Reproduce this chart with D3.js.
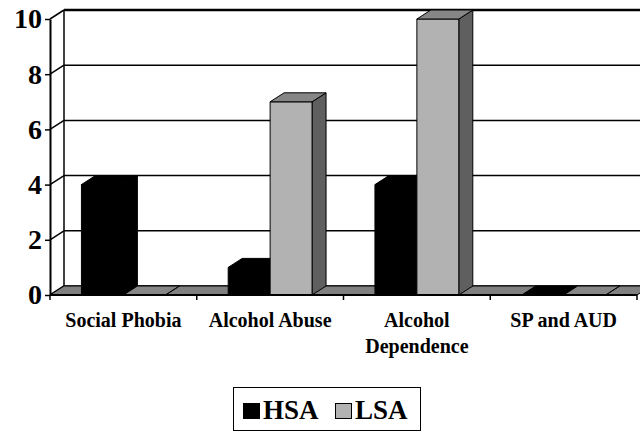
<!DOCTYPE html>
<html>
<head>
<meta charset="utf-8">
<script src="https://cdn.jsdelivr.net/npm/d3@7"></script>
<style>
  body { margin: 0; background: #fff; }
</style>
</head>
<body>
<div id="chart"></div>
<script>
// chart data
var categories = ['Social Phobia', 'Alcohol Abuse', 'Alcohol Dependence', 'SP and AUD'];
var categoryLines = [['Social Phobia'], ['Alcohol Abuse'], ['Alcohol', 'Dependence'], ['SP and AUD']];
var seriesNames = ['HSA', 'LSA'];
var hsaValues = [4, 1, 4, 0];
var lsaValues = [0, 7, 10, 0];
var yTicks = [0, 2, 4, 6, 8, 10];

var width = 640, height = 431;
var depth = {dx: 14, dy: -9};
var serif = 'Liberation Serif';

// colours for front / top / side of each series
var faceColors = {
    HSA: {front: '#000000', top: '#000000', side: '#000000'},
    LSA: {front: '#b2b2b2', top: '#868686', side: '#5f5f5f'}
};

var svg = d3.select('#chart').append('svg')
    .attr('width', width)
    .attr('height', height);

// scales
var x = d3.scaleBand().domain(categories).range([50, 637]).paddingInner(0).paddingOuter(0);
var xSub = d3.scaleBand().domain(seriesNames).range([0, x.bandwidth()]).paddingInner(0).paddingOuter(0.75);
var y = d3.scaleLinear().domain([0, 10]).range([295, 19]);

var x0 = x.range()[0], x1 = x.range()[1];

// back wall gridlines
svg.append('g').selectAll('line')
    .data(yTicks)
    .enter().append('line')
    .attr('x1', x0 + depth.dx)
    .attr('x2', width + 20)
    .attr('y1', function (d) { return y(d) + depth.dy; })
    .attr('y2', function (d) { return y(d) + depth.dy; })
    .attr('stroke', '#000')
    .attr('stroke-width', function (d) { return d === 10 ? 2.5 : 1.5; });

// side wall: diagonal lines from front axis to back wall
svg.append('g').selectAll('line')
    .data(yTicks)
    .enter().append('line')
    .attr('x1', x0)
    .attr('y1', function (d) { return y(d); })
    .attr('x2', x0 + depth.dx)
    .attr('y2', function (d) { return y(d) + depth.dy; })
    .attr('stroke', '#000')
    .attr('stroke-width', 1.5);

// back wall left edge
svg.append('line')
    .attr('x1', x0 + depth.dx).attr('x2', x0 + depth.dx)
    .attr('y1', y(10) + depth.dy).attr('y2', y(0) + depth.dy)
    .attr('stroke', '#000').attr('stroke-width', 1.5);

// floor
function quad(pts) {
    return 'M' + pts.map(function (p) { return p[0] + ',' + p[1]; }).join('L') + 'Z';
}
svg.append('path')
    .attr('d', quad([[x0, y(0)], [x1, y(0)], [x1 + depth.dx, y(0) + depth.dy], [x0 + depth.dx, y(0) + depth.dy]]))
    .attr('fill', '#808080')
    .attr('stroke', '#000')
    .attr('stroke-width', 1);

// bars
var bars = [];
categories.forEach(function (c, i) {
    bars.push({cat: c, series: 'HSA', value: hsaValues[i]});
    bars.push({cat: c, series: 'LSA', value: lsaValues[i]});
});

var barG = svg.append('g');
bars.forEach(function (b) {
    var left = x(b.cat) + xSub(b.series);
    var right = left + xSub.bandwidth();
    var top = y(b.value), base = y(0);
    var col = faceColors[b.series];
    var g = barG.append('g');
    // side face
    g.append('path')
        .attr('d', quad([[right, base], [right + depth.dx, base + depth.dy], [right + depth.dx, top + depth.dy], [right, top]]))
        .attr('fill', col.side).attr('stroke', '#000').attr('stroke-width', 1);
    // front face
    g.append('path')
        .attr('d', quad([[left, base], [right, base], [right, top], [left, top]]))
        .attr('fill', col.front).attr('stroke', '#000').attr('stroke-width', 1);
    // top face
    g.append('path')
        .attr('d', quad([[left, top], [right, top], [right + depth.dx, top + depth.dy], [left + depth.dx, top + depth.dy]]))
        .attr('fill', col.top).attr('stroke', '#000').attr('stroke-width', 1);
});

// y axis
var yAxis = svg.append('g')
    .attr('transform', 'translate(' + x0 + ',0)')
    .call(d3.axisLeft(y).tickValues(yTicks).tickSize(5).tickSizeOuter(0).tickPadding(3));
yAxis.select('.domain').attr('stroke', '#000').attr('stroke-width', 2);
yAxis.selectAll('.tick line').attr('stroke', '#000').attr('stroke-width', 1.5);
yAxis.selectAll('.tick text')
    .attr('fill', '#000')
    .attr('font-family', serif)
    .attr('font-weight', 'bold')
    .attr('font-size', 28);

// x axis
svg.append('line')
    .attr('x1', x0).attr('x2', x1)
    .attr('y1', y(0)).attr('y2', y(0))
    .attr('stroke', '#000').attr('stroke-width', 2);

var boundaries = categories.map(function (c) { return x(c); }).concat([x1]);
svg.append('g').selectAll('line')
    .data(boundaries)
    .enter().append('line')
    .attr('x1', function (d) { return d; })
    .attr('x2', function (d) { return d; })
    .attr('y1', y(0))
    .attr('y2', y(0) + 5)
    .attr('stroke', '#000')
    .attr('stroke-width', 1.5);

// category labels
var labels = svg.append('g').selectAll('text')
    .data(categories)
    .enter().append('text')
    .attr('text-anchor', 'middle')
    .attr('font-family', serif)
    .attr('font-weight', 'bold')
    .attr('font-size', 20)
    .attr('transform', function (d) { return 'translate(' + (x(d) + x.bandwidth() / 2) + ',327)'; });
labels.each(function (d, i) {
    var t = d3.select(this);
    categoryLines[i].forEach(function (line, j) {
        t.append('tspan').attr('x', 0).attr('y', j * 26).text(line);
    });
});

// legend
var legend = svg.append('g');
legend.append('rect')
    .attr('x', 233.5).attr('y', 387.5)
    .attr('width', 187).attr('height', 43)
    .attr('fill', '#fff').attr('stroke', '#000').attr('stroke-width', 1);

var legendX = [243, 335];
seriesNames.forEach(function (s, i) {
    legend.append('rect')
        .attr('x', legendX[i] + 0.5).attr('y', 403.5)
        .attr('width', 16).attr('height', 15)
        .attr('fill', faceColors[s].front)
        .attr('stroke', '#000').attr('stroke-width', 1);
    legend.append('text')
        .attr('x', legendX[i] + 20)
        .attr('y', 419)
        .attr('font-family', serif)
        .attr('font-weight', 'bold')
        .attr('font-size', 27)
        .text(s);
});
</script>
</body>
</html>
